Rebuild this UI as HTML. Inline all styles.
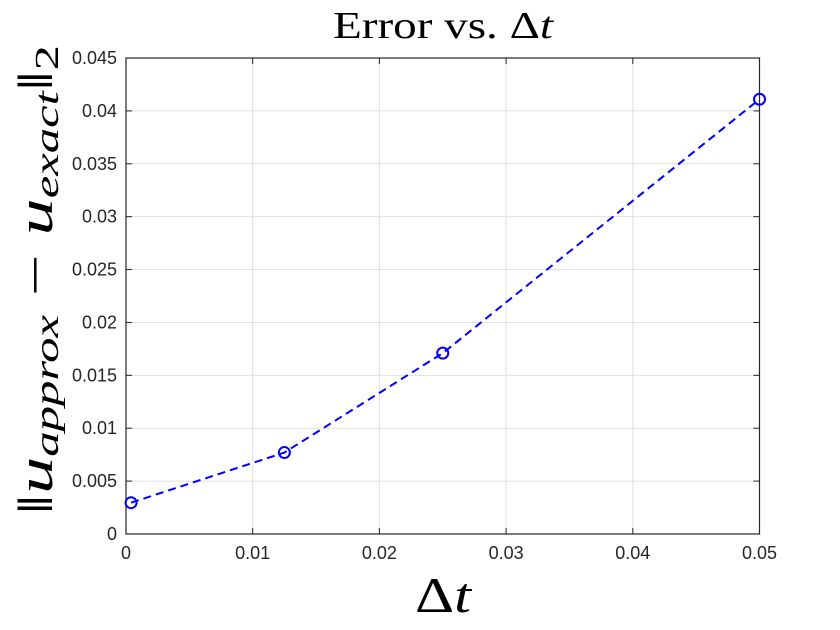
<!DOCTYPE html>
<html><head><meta charset="utf-8"><style>body{margin:0;background:#fff}svg{display:block}</style></head>
<body>
<svg id="chart" width="840" height="630" xmlns="http://www.w3.org/2000/svg" font-family="Liberation Sans, sans-serif">
<rect width="840" height="630" fill="#fff"/>
<g id="grid"></g><g id="axes"></g><g id="series"></g>
<text x="443" y="38" text-anchor="middle" font-family="Liberation Serif, serif" font-size="38" fill="#000" textLength="220" lengthAdjust="spacingAndGlyphs">Error vs. Δ<tspan font-style="italic">t</tspan></text>
<text x="443" y="612" text-anchor="middle" font-family="Liberation Serif, serif" font-size="50" fill="#000" textLength="56" lengthAdjust="spacingAndGlyphs">Δ<tspan font-style="italic">t</tspan></text>
<text transform="translate(52,280) rotate(-90)" text-anchor="middle" font-family="Liberation Serif, serif" font-size="50" fill="#000" textLength="470" lengthAdjust="spacingAndGlyphs">‖<tspan font-style="italic">u</tspan><tspan font-style="italic" font-size="34" dy="6">approx</tspan><tspan dy="-6"> − </tspan><tspan font-style="italic">u</tspan><tspan font-style="italic" font-size="34" dy="6">exact</tspan><tspan dy="-6">‖</tspan><tspan font-size="34" dy="6">2</tspan></text>
</svg>
<script>
const xs=[0.0004,0.0125,0.025,0.05];
const ys=[0.00296,0.0077,0.0171,0.0411];
const xTicks=[0,0.01,0.02,0.03,0.04,0.05];
const xTickLabels=["0","0.01","0.02","0.03","0.04","0.05"];
const yTicks=[0,0.005,0.01,0.015,0.02,0.025,0.03,0.035,0.04,0.045];
const yTickLabels=["0","0.005","0.01","0.015","0.02","0.025","0.03","0.035","0.04","0.045"];
const L=126,R=759.5,T=58,B=534;
const X=v=>L+(v-0)/0.05*(R-L);
const Y=v=>B-(v-0)/0.045*(B-T);
const NS="http://www.w3.org/2000/svg";
function mk(t,a,p){const e=document.createElementNS(NS,t);for(const k in a)e.setAttribute(k,a[k]);p.appendChild(e);return e;}
const g=document.getElementById('grid'),ax=document.getElementById('axes'),s=document.getElementById('series');
xTicks.forEach((v,i)=>{const x=X(v);
 if(i>0&&i<xTicks.length-1){const l=mk('line',{x1:x,x2:x,y1:T,y2:B,stroke:'#e0e0e0','stroke-width':1},g);
 
 }
 mk('line',{x1:x,x2:x,y1:B,y2:B-6,stroke:'#262626'},ax);mk('line',{x1:x,x2:x,y1:T,y2:T+6,stroke:'#262626'},ax);
 const t=mk('text',{x:x,y:B+25,'text-anchor':'middle','font-size':18,fill:'#262626'},ax);t.textContent=xTickLabels[i];
 
 });
yTicks.forEach((v,i)=>{const y=Y(v);
 if(i>0&&i<yTicks.length-1){const l=mk('line',{x1:L,x2:R,y1:y,y2:y,stroke:'#e0e0e0','stroke-width':1},g);
 
 }
 mk('line',{x1:L,x2:L+6,y1:y,y2:y,stroke:'#262626'},ax);mk('line',{x1:R,x2:R-6,y1:y,y2:y,stroke:'#262626'},ax);
 const t=mk('text',{x:L-9,y:y+6,'text-anchor':'end','font-size':18,fill:'#262626'},ax);t.textContent=yTickLabels[i];
 
 });
const box=mk('rect',{x:L,y:T,width:R-L,height:B-T,fill:'none',stroke:'#262626','stroke-width':1.2},ax);


const line=mk('polyline',{points:xs.map((v,i)=>X(v)+','+Y(ys[i])).join(' '),fill:'none',stroke:'#0000ff','stroke-width':2,'stroke-dasharray':'8,5'},s);


xs.forEach((v,i)=>{const c=mk('circle',{cx:X(v),cy:Y(ys[i]),r:5.5,fill:'none',stroke:'#0000ff','stroke-width':2},s);
 
 });
</script>
</body></html>
